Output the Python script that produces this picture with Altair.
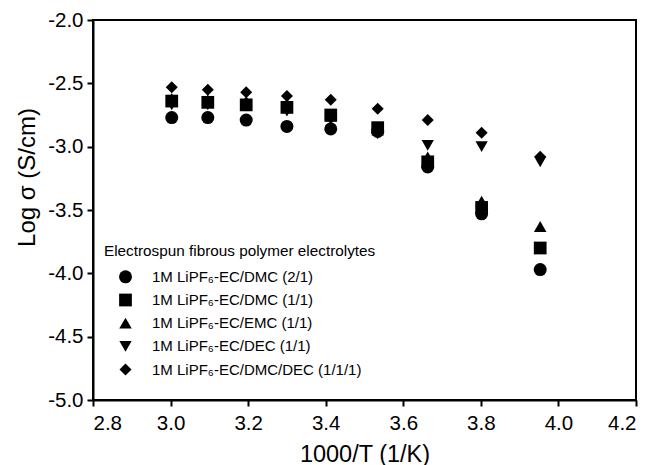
import altair as alt
import pandas as pd

x_vals = [3.003, 3.096, 3.195, 3.300, 3.413, 3.534, 3.663, 3.802, 3.953]

series_names = [
    "1M LiPF₆-EC/DMC (2/1)",
    "1M LiPF₆-EC/DMC (1/1)",
    "1M LiPF₆-EC/EMC (1/1)",
    "1M LiPF₆-EC/DEC (1/1)",
    "1M LiPF₆-EC/DMC/DEC (1/1/1)",
]
shapes = ["circle", "square", "triangle-up", "triangle-down", "diamond"]
sizes = [169, 144, 196, 196, 246]

y_circle = [-2.77, -2.77, -2.79, -2.84, -2.86, -2.88, -3.16, -3.53, -3.97]
y_square = [-2.64, -2.65, -2.67, -2.69, -2.75, -2.85, -3.12, -3.48, -3.80]
y_tri_up = [-2.62, -2.63, -2.64, -2.66, -2.76, -2.87, -3.08, -3.43, -3.63]
y_tri_down = [-2.67, -2.67, -2.68, -2.72, -2.79, -2.90, -2.99, -3.00, -3.12]
y_diamond = [-2.53, -2.55, -2.57, -2.60, -2.63, -2.70, -2.79, -2.89, -3.08]

x_ticks = [2.8, 3.0, 3.2, 3.4, 3.6, 3.8, 4.0, 4.2]
y_ticks = [-2.0, -2.5, -3.0, -3.5, -4.0, -4.5, -5.0]

all_y = [y_circle, y_square, y_tri_up, y_tri_down, y_diamond]
rows = []
for name, ys in zip(series_names, all_y):
    for xv, yv in zip(x_vals, ys):
        rows.append({"x": xv, "y": yv, "series": name})
df = pd.DataFrame(rows)

FONT = "Liberation Sans"
LABEL_EXPR = "replace(format(datum.value, '.1f'), '\u2212', '-')"

legend = alt.Legend(
    title="Electrospun fibrous polymer electrolytes",
    orient="none", legendX=11, legendY=224,
    padding=0, titlePadding=10, rowPadding=7.2,
    symbolOffset=14, labelOffset=19,
    symbolFillColor="black", symbolStrokeWidth=0,
    titleFont=FONT, titleFontSize=15.3, titleFontWeight="normal",
    titleColor="black", labelFont=FONT, labelFontSize=15,
    labelColor="black", labelLimit=400, titleLimit=400)

chart = alt.Chart(df).mark_point(filled=True, opacity=1, color="black").encode(
    x=alt.X("x:Q", title="1000/T (1/K)",
            scale=alt.Scale(domain=[2.8, 4.2], nice=False, zero=False),
            axis=alt.Axis(values=x_ticks, labelExpr=LABEL_EXPR, titleY=42,
                          labelPadding=7, titleFontSize=23.5)),
    y=alt.Y("y:Q", title="Log σ (S/cm)",
            scale=alt.Scale(domain=[-5.0, -2.0], nice=False, zero=False),
            axis=alt.Axis(values=y_ticks, labelExpr=LABEL_EXPR, titlePadding=8,
                          labelPadding=4, titleY=157, titleFontSize=24)),
    shape=alt.Shape("series:N", sort=series_names,
                    scale=alt.Scale(domain=series_names, range=shapes),
                    legend=legend),
    size=alt.Size("series:N", sort=series_names,
                  scale=alt.Scale(domain=series_names, range=sizes), legend=legend),
).properties(
    width=543, height=380,
    background="white",
    autosize=alt.AutoSizeParams(type="none"),
    padding={"left": 93, "top": 20, "right": 17, "bottom": 65},
).configure_view(
    stroke="black", strokeWidth=2
).configure_axis(
    grid=False, domainColor="black", domainWidth=2, tickColor="black", tickWidth=2,
    tickSize=6, labelFont=FONT, labelFontSize=20.5, labelColor="black",
    titleFont=FONT, titleFontWeight="normal", titleColor="black",
)

chart.save("out.html", embed_options={"renderer": "svg", "actions": False})
